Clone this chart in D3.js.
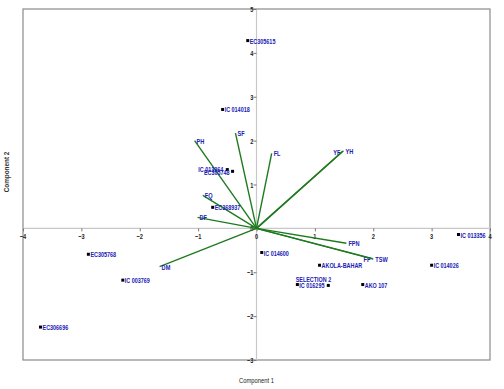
<!DOCTYPE html>
<html>
<head>
<meta charset="utf-8">
<script src="https://cdn.jsdelivr.net/npm/d3@7"></script>
<style>
  body { margin: 0; background: #fff; }
  text { font-family: "Liberation Sans", Arial, sans-serif; }
</style>
</head>
<body>
<svg id="chart" width="504" height="389"></svg>
<script>
// genotype scores
var genotypes = ["EC305615", "IC 014018", "IC 013964", "EC305748", "EC368937", "EC305768", "IC 003769",
  "EC306696", "IC 014600", "AKOLA-BAHAR", "IC 016295", "SELECTION 2", "AKO 107", "IC 014026", "IC 013356"];
var pc1 = [-0.15, -0.58, -0.50, -0.41, -0.75, -2.88, -2.29, -3.70, 0.09, 1.08, 0.70, 1.23, 1.82, 3.00, 3.46];
var pc2 = [4.28, 2.71, 1.34, 1.30, 0.48, -0.59, -1.18, -2.25, -0.55, -0.84, -1.28, -1.30, -1.28, -0.84, -0.14];

// trait loadings (vectors)
var traits = ["PH", "SF", "FL", "YF", "YH", "FQ", "DF", "DM", "FPN", "FP", "TSW"];
var loadX = [-1.06, -0.36, 0.26, 1.47, 1.49, -0.92, -1.01, -1.66, 1.54, 1.99, 2.00];
var loadY = [2.00, 2.17, 1.71, 1.75, 1.77, 0.75, 0.25, -0.87, -0.34, -0.69, -0.70];

var xTicks = [-4, -3, -2, -1, 0, 1, 2, 3, 4];
var yTicks = [-3, -2, -1, 0, 1, 2, 3, 4, 5];

var svg = d3.select("#chart");
var plotLeft = 23, plotRight = 490, plotTop = 9, plotBottom = 360;

var x = d3.scaleLinear().domain([-4, 4]).range([plotLeft, plotRight]);
var y = d3.scaleLinear().domain([-3, 5]).range([plotBottom, plotTop]);

// smal (kondenseret) tekst via skalering
function narrowText(px, py, txt, anchor, size, color, squeeze, weight) {
  return svg.append("text")
    .attr("transform", "translate(" + px + "," + py + ") scale(" + squeeze + ",1)")
    .attr("text-anchor", anchor || "start")
    .style("font-size", size + "px")
    .style("font-weight", weight || "bold")
    .attr("fill", color)
    .text(txt);
}

// ramme
svg.append("rect")
  .attr("x", plotLeft).attr("y", plotTop)
  .attr("width", plotRight - plotLeft).attr("height", plotBottom - plotTop)
  .attr("fill", "none").attr("stroke", "#8a8a8a").attr("stroke-width", 1.2);

// akser gennem origo
svg.append("line")
  .attr("x1", plotLeft).attr("x2", plotRight).attr("y1", y(0)).attr("y2", y(0))
  .attr("stroke", "#c8c8c8").attr("stroke-width", 1.2);
svg.append("line")
  .attr("x1", x(0)).attr("x2", x(0)).attr("y1", plotTop).attr("y2", plotBottom)
  .attr("stroke", "#c8c8c8").attr("stroke-width", 1.2);

var xAxis = svg.append("g")
  .attr("transform", "translate(0," + y(0) + ")")
  .call(d3.axisBottom(x).tickValues(xTicks).tickSize(3).tickFormat(""));
var yAxis = svg.append("g")
  .attr("transform", "translate(" + x(0) + ",0)")
  .call(d3.axisLeft(y).tickValues(yTicks).tickSize(3).tickFormat(""));
[xAxis, yAxis].forEach(function(a) {
  a.select(".domain").remove();
  a.selectAll(".tick line").attr("stroke", "#777");
});
xTicks.forEach(function(t) {
  narrowText(x(t), y(0) + 11, d3.format("d")(t), "middle", 7.5, "#222", 0.75, "bold");
});
yTicks.forEach(function(t) {
  narrowText(x(0) - 3, y(t) + 3, d3.format("d")(t), "end", 7.5, "#222", 0.75, "bold");
});

// aksetitler
narrowText(x(0), 383, "Component 1", "middle", 7.5, "#222", 0.78, "normal");
svg.append("text")
  .attr("transform", "translate(9,172) rotate(-90) scale(0.85,1)")
  .attr("text-anchor", "middle")
  .style("font-size", "7.5px").style("font-weight", "bold").attr("fill", "#333")
  .text("Component 2");

// vektorer
var labelBlue = "#2020b4";
var vecAnchor = { YF: "end", FP: "end" };
var vecDx = { YF: -2, FP: -2 };
traits.forEach(function(t, i) {
  svg.append("line")
    .attr("x1", x(0)).attr("y1", y(0))
    .attr("x2", x(loadX[i])).attr("y2", y(loadY[i]))
    .attr("stroke", "#1f7a1f").attr("stroke-width", 1.4);
  narrowText(x(loadX[i]) + (vecDx[t] !== undefined ? vecDx[t] : 2), y(loadY[i]) + 3,
    t, vecAnchor[t] || "start", 8, labelBlue, 0.7);
});

// genotyper
var ptAnchor = { "IC 013964": "end", "EC305748": "end", "SELECTION 2": "end" };
var ptDx = { "IC 013964": -4, "EC305748": -3, "SELECTION 2": 3 };
var ptDy = { "IC 013964": 2.5, "EC305748": 4, "SELECTION 2": -3 };
genotypes.forEach(function(g, i) {
  svg.append("rect")
    .attr("x", x(pc1[i]) - 1.5).attr("y", y(pc2[i]) - 1.5)
    .attr("width", 3).attr("height", 3)
    .attr("fill", "#000");
  narrowText(x(pc1[i]) + (ptDx[g] !== undefined ? ptDx[g] : 2),
    y(pc2[i]) + (ptDy[g] !== undefined ? ptDy[g] : 3),
    g, ptAnchor[g] || "start", 8, labelBlue, 0.68);
});
</script>
</body>
</html>
